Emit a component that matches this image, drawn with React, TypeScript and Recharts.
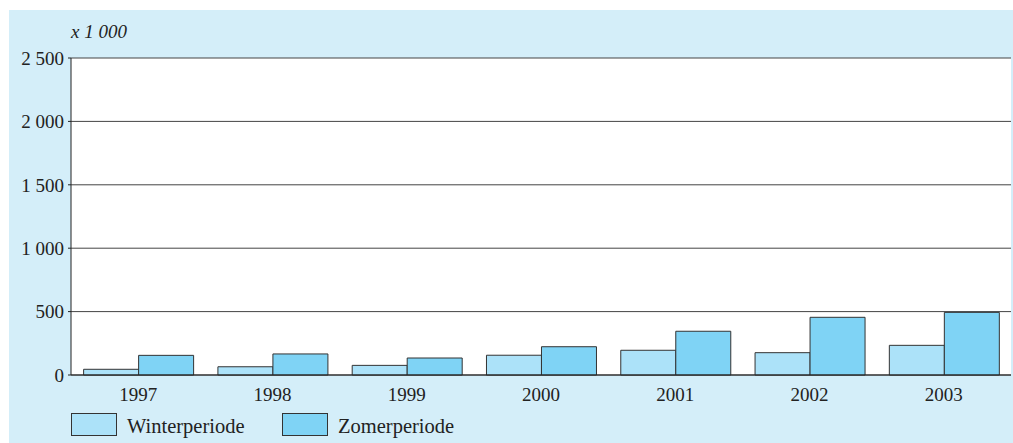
import { BarChart, Bar, XAxis, YAxis, CartesianGrid } from "recharts";

const years = ["1997", "1998", "1999", "2000", "2001", "2002", "2003"];
const winter = [45, 65, 76, 156, 195, 176, 234];
const zomer = [155, 166, 134, 223, 345, 455, 494];
const yTicks = [0, 500, 1000, 1500, 2000, 2500];

const WINTER_FILL = "#ace2f9";
const ZOMER_FILL = "#7fd3f5";
const BG = "#d4eef9";
const FONT = "'Liberation Serif', serif";

const data = years.map((y, i) => ({ year: y, winter: winter[i], zomer: zomer[i] }));

const fmt = (v: number) => String(v).replace(/\B(?=(\d{3})+(?!\d))/g, " ");

function LegendItem({ color, label, left }: { color: string; label: string; left: number }) {
  return (
    <div style={{ position: "absolute", left, top: 411, display: "flex", alignItems: "center" }}>
      <div style={{ width: 44, height: 21, background: color, border: "1px solid #333" }} />
      <span style={{ marginLeft: 10, fontSize: 20.5, color: "#222", fontFamily: FONT, marginTop: 4 }}>{label}</span>
    </div>
  );
}

export default function App() {
  return (
    <div style={{ position: "absolute", left: 0, top: 0, width: 1013, height: 443, background: "#fff", overflow: "hidden" }}>
      <div style={{ position: "absolute", left: 9, top: 10, width: 1004, height: 433, background: BG }} />
      <div style={{ position: "absolute", left: 71, top: 21, fontFamily: FONT, fontStyle: "italic", fontSize: 19, color: "#222" }}>
        x 1 000
      </div>
      <div style={{ position: "absolute", left: 0, top: 0 }}>
        <BarChart
          width={1013}
          height={443}
          data={data}
          margin={{ top: 58, right: 2, bottom: 38, left: 8 }}
          barCategoryGap="9.4%"
          barGap={0}
        >
          <CartesianGrid vertical={false} stroke="#444" fill="#fff" />
          <XAxis
            dataKey="year"
            height={30}
            tickLine={false}
            axisLine={{ stroke: "#222" }}
            tick={{ fill: "#222", fontSize: 19, fontFamily: FONT }}
            tickMargin={7}
          />
          <YAxis
            width={63}
            domain={[0, 2500]}
            ticks={yTicks}
            tickFormatter={fmt}
            tickSize={3}
            tickMargin={4}
            tickLine={{ stroke: "#222" }}
            axisLine={{ stroke: "#222" }}
            tick={{ fill: "#222", fontSize: 19, fontFamily: FONT }}
            interval={0}
          />
          <YAxis
            yAxisId="r"
            orientation="right"
            width={0}
            tick={false}
            tickLine={false}
            axisLine={{ stroke: "#777" }}
          />
          <Bar dataKey="winter" fill={WINTER_FILL} stroke="#333" strokeWidth={1} isAnimationActive={false} />
          <Bar dataKey="zomer" fill={ZOMER_FILL} stroke="#333" strokeWidth={1} isAnimationActive={false} />
        </BarChart>
      </div>
      <LegendItem color={WINTER_FILL} label="Winterperiode" left={71} />
      <LegendItem color={ZOMER_FILL} label="Zomerperiode" left={282} />
    </div>
  );
}
